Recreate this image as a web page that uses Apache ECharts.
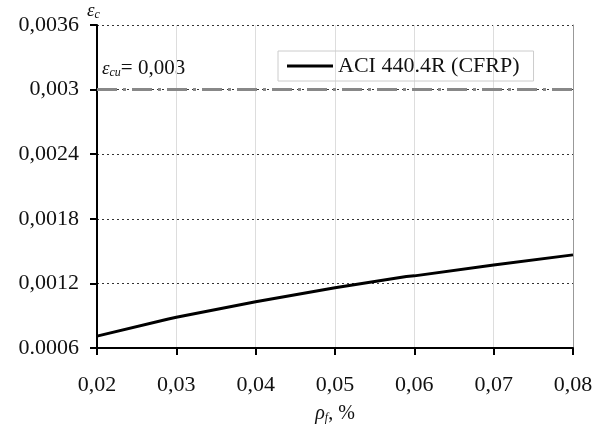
<!DOCTYPE html>
<html><head><meta charset="utf-8">
<script src="https://cdn.jsdelivr.net/npm/echarts@6/dist/echarts.min.js"></script>
<style>html,body{margin:0;padding:0;background:#fff}#c{width:604px;height:429px}</style>
</head><body><div id="c"></div>
<script>
const xValues = [0.02, 0.029, 0.03, 0.04, 0.05, 0.059, 0.06, 0.07, 0.08];
const aciValues = [0.00071, 0.00087, 0.000886, 0.00103, 0.00116, 0.001265, 0.00127, 0.00137, 0.001465];
const limitX = [0.02, 0.08];
const limitValue = 0.003;
const xTickLabels = ['0,02','0,03','0,04','0,05','0,06','0,07','0,08'];
const yTickLabels = ['0.0006','0,0012','0,0018','0,0024','0,003','0,0036'];
const seriesName = 'ACI 440.4R (CFRP)';

const font = '"Liberation Serif","Times New Roman",serif';
const chart = echarts.init(document.getElementById('c'), null, {renderer:'canvas'});
chart.setOption({
  animation:false,
  backgroundColor:'#fff',
  grid:{left:97,right:31,top:25,bottom:76},
  legend:{
    data:[seriesName], left:278, top:51,
    padding:[4,14,4,9], borderColor:'#ccc', borderWidth:1,
    itemWidth:46, itemHeight:12, itemGap:5, icon:'path://M0,4.5 L46,4.5 L46,7.5 L0,7.5 Z',
    textStyle:{fontFamily:font, fontSize:22, color:'#111'}
  },
  xAxis:{
    type:'value', min:0.02, max:0.08, interval:0.01,
    name:'{i|ρ}{s|f}{n|, %}', nameLocation:'middle', nameGap:56,
    nameTextStyle:{rich:{
      i:{fontFamily:font,fontStyle:'italic',fontSize:20,color:'#111'},
      s:{fontFamily:font,fontStyle:'italic',fontSize:12,color:'#111',padding:[8,0,0,0]},
      n:{fontFamily:font,fontSize:20,color:'#111'}}},
    axisLine:{lineStyle:{color:'#000',width:2}},
    axisTick:{inside:false,length:7,lineStyle:{color:'#000',width:2}},
    axisLabel:{fontFamily:font,fontSize:22,color:'#111',margin:26,
      formatter:(v)=>{const i=Math.round((v-0.02)/0.01);return xTickLabels[i]||'';}},
    splitLine:{show:true,lineStyle:{color:'#ddd',width:1}}
  },
  yAxis:[{
    type:'value', min:0.0006, max:0.0036, interval:0.0006,
    name:'{i|ε}{s|c}', nameLocation:'end', nameGap:4,
    nameTextStyle:{align:'left',padding:[0,0,0,-10],rich:{
      i:{fontFamily:font,fontStyle:'italic',fontSize:19,color:'#111'},
      s:{fontFamily:font,fontStyle:'italic',fontSize:12,color:'#111',padding:[8,0,0,0]}}},
    axisLine:{show:true,lineStyle:{color:'#000',width:2}},
    axisTick:{show:true,inside:false,length:7,lineStyle:{color:'#000',width:2}},
    axisLabel:{fontFamily:font,fontSize:22,color:'#111',margin:18,
      formatter:(v)=>{const i=Math.round((v-0.0006)/0.0006);return yTickLabels[i]||'';}},
    splitLine:{show:true,lineStyle:{color:'#333',width:1,type:[2,3]}}
  },{
    type:'value', min:0.0006, max:0.0036, position:'right',
    axisLine:{show:true,lineStyle:{color:'#999',width:1}},
    axisTick:{show:false}, axisLabel:{show:false}, splitLine:{show:false}
  }],
  graphic:[{
    type:'text', left:102, top:58,
    style:{
      text:'{i|ε}{s|cu}{n|= 0,003}',
      rich:{
        i:{fontFamily:font,fontStyle:'italic',fontSize:19,fill:'#111'},
        s:{fontFamily:font,fontStyle:'italic',fontSize:12,fill:'#111',padding:[8,0,0,0]},
        n:{fontFamily:font,fontSize:21,fill:'#111'}
      }
    }
  }],
  series:[{
    name:'limit', type:'line', symbol:'none', silent:true,
    data:limitX.map(x=>[x,limitValue]),
    lineStyle:{color:'#888',width:3,type:[20,6,3,6]}, z:3
  },{
    name:seriesName, type:'line', symbol:'none',
    data:xValues.map((x,i)=>[x,aciValues[i]]),
    lineStyle:{color:'#000',width:3}, itemStyle:{color:'#000'}, z:4
  }]
});
</script></body></html>
